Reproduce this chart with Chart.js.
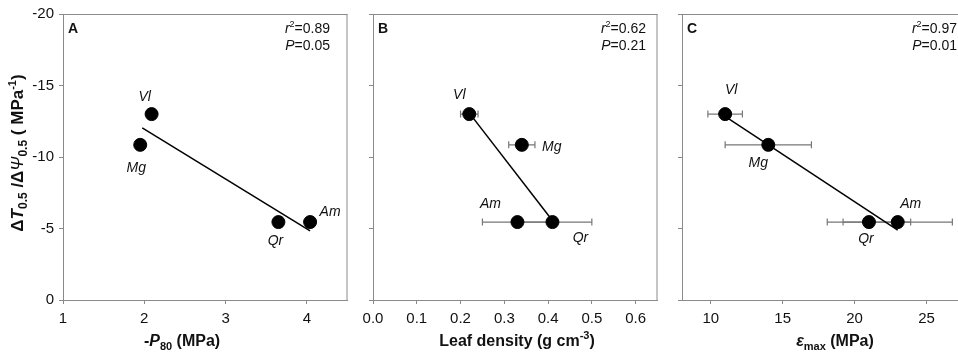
<!DOCTYPE html>
<html>
<head>
<meta charset="utf-8">
<script src="https://cdn.jsdelivr.net/npm/chart.js@4.4.0/dist/chart.umd.min.js"></script>
<style>
  html, body { margin: 0; padding: 0; background: #fff; overflow: hidden; width: 958px; height: 362px; }
  canvas { position: absolute; top: 0; }
</style>
</head>
<body>
<canvas id="panelA" width="355" height="362" style="left:0px"></canvas>
<canvas id="panelB" width="310" height="362" style="left:355px"></canvas>
<canvas id="panelC" width="330" height="362" style="left:665px"></canvas>
<script>
// data
const species = ['Vl', 'Mg', 'Qr', 'Am'];
const tempSens = [-13.0, -10.85, -5.45, -5.45];      // dT0.5 / dPsi0.5
const p80 = [2.09, 1.95, 3.65, 4.04];
const leafDensity = [0.22, 0.34, 0.41, 0.33];
const leafDensityErr = [0.02, 0.03, 0.09, 0.08];
const emax = [11.0, 14.0, 21.0, 23.0];
const emaxErr = [1.2, 3.0, 2.9, 3.8];

// regression line end points
const fitXA = [1.975, 4.04];
const fitYA = [-12.03, -4.83];
const fitXB = [0.222, 0.405];
const fitYB = [-13.0, -5.75];
const fitXC = [11.1, 23.0];
const fitYC = [-12.77, -4.88];

const r2Vals = ['0.89', '0.62', '0.97'];
const pVals = ['0.05', '0.21', '0.01'];

// axis ticks
const yTicks = [-20, -15, -10, -5, 0];
const xTicksA = [1, 2, 3, 4];
const xTicksB = [0, 0.1, 0.2, 0.3, 0.4, 0.5, 0.6];
const xTicksC = [10, 15, 20, 25];

const FONT = '"Liberation Sans", Arial, sans-serif';
const AXIS = '#8a8a8a';
const INK = '#111';

function richText(ctx, parts, x, y, align) {
  let w = 0;
  parts.forEach(p => { ctx.font = p.f; p.w = ctx.measureText(p.t).width; w += p.w; });
  let cx = align === 'center' ? x - w / 2 : align === 'right' ? x - w : x;
  ctx.textAlign = 'left';
  ctx.textBaseline = 'alphabetic';
  ctx.fillStyle = INK;
  parts.forEach(p => { ctx.font = p.f; ctx.fillText(p.t, cx, y + (p.dy || 0)); cx += p.w; });
}

const B16 = 'bold 16px ' + FONT, B11 = 'bold 11px ' + FONT;

// panel extras drawn by one plugin
const panelPlugin = {
  id: 'panelExtras',
  beforeDatasetsDraw(chart) {
    const cfg = chart.options.plugins.panelExtras;
    const ctx = chart.ctx, xs = chart.scales.x, ys = chart.scales.y;
    // error bars
    if (cfg.err) {
      ctx.save();
      ctx.strokeStyle = '#777';
      ctx.lineWidth = 1.2;
      cfg.xv.forEach((v, i) => {
        const y = ys.getPixelForValue(tempSens[i]);
        const x1 = xs.getPixelForValue(v - cfg.err[i]);
        const x2 = xs.getPixelForValue(v + cfg.err[i]);
        ctx.beginPath();
        ctx.moveTo(x1, y); ctx.lineTo(x2, y);
        ctx.moveTo(x1, y - 3.5); ctx.lineTo(x1, y + 3.5);
        ctx.moveTo(x2, y - 3.5); ctx.lineTo(x2, y + 3.5);
        ctx.stroke();
      });
      ctx.restore();
    }
  },
  afterDraw(chart) {
    const cfg = chart.options.plugins.panelExtras;
    const ctx = chart.ctx, a = chart.chartArea, xs = chart.scales.x, ys = chart.scales.y;
    ctx.save();
    // top and right frame
    ctx.strokeStyle = AXIS;
    ctx.lineWidth = 1;
    ctx.beginPath();
    ctx.moveTo(a.left, a.top + 0.5); ctx.lineTo(a.right, a.top + 0.5);
    ctx.moveTo(a.right - 0.5, a.top); ctx.lineTo(a.right - 0.5, a.bottom);
    ctx.stroke();

    // species labels
    ctx.font = 'italic 14px ' + FONT;
    ctx.fillStyle = INK;
    ctx.textAlign = 'center';
    ctx.textBaseline = 'middle';
    species.forEach((s, i) => {
      const px = xs.getPixelForValue(cfg.xv[i]) + cfg.lab[i][0];
      const py = ys.getPixelForValue(tempSens[i]) + cfg.lab[i][1];
      ctx.fillText(s, px, py);
    });

    // panel letter
    ctx.font = 'bold 14px ' + FONT;
    ctx.textAlign = 'left';
    ctx.textBaseline = 'alphabetic';
    ctx.fillText(cfg.letter, a.left + 5, a.top + 19);

    // statistics
    const I14 = 'italic 14px ' + FONT, R14 = '14px ' + FONT;
    richText(ctx, [{t: 'r', f: I14}, {t: '2', f: '9px ' + FONT, dy: -6}, {t: '=' + r2Vals[cfg.idx], f: R14}], cfg.statX, 33, 'right');
    richText(ctx, [{t: 'P', f: I14}, {t: '=' + pVals[cfg.idx], f: R14}], cfg.statX, 50, 'right');

    // x title
    richText(ctx, cfg.xTitle, cfg.titleX, 346, 'center');

    // y title (panel A only)
    if (cfg.yTitle) {
      ctx.translate(23, 153);
      ctx.rotate(-Math.PI / 2);
      richText(ctx, cfg.yTitle, 0, 0, 'center');
    }
    ctx.restore();
  }
};

function makePanel(id, cfg) {
  const pts = species.map((s, i) => ({x: cfg.xv[i], y: tempSens[i]}));
  const fit = cfg.fitX.map((v, i) => ({x: v, y: cfg.fitY[i]}));
  return new Chart(document.getElementById(id), {
    type: 'scatter',
    data: {
      datasets: [
        {data: pts, pointRadius: 6.5, pointHoverRadius: 6.5, backgroundColor: '#000', borderColor: '#000'},
        {data: fit, showLine: true, pointRadius: 0, borderColor: '#000', borderWidth: 1.5}
      ]
    },
    options: {
      responsive: false,
      animation: false,
      devicePixelRatio: 1,
      layout: {padding: {left: 0, right: cfg.padRight, top: 13, bottom: 0}},
      plugins: {legend: {display: false}, tooltip: {enabled: false}, panelExtras: cfg},
      scales: {
        x: {
          type: 'linear', min: cfg.xmin, max: cfg.xmax,
          afterBuildTicks: s => { s.ticks = cfg.xt.map(v => ({value: v})); },
          afterFit: s => { s.height = 62; },
          grid: {drawOnChartArea: false, drawTicks: true, tickLength: 4, color: AXIS},
          border: {color: AXIS, width: 1},
          ticks: {font: {family: FONT, size: 15}, color: INK, padding: 6, maxRotation: 0, autoSkip: false,
                  callback: v => cfg.fmt(v)}
        },
        y: {
          type: 'linear', min: -20, max: 0, reverse: true,
          afterBuildTicks: s => { s.ticks = yTicks.map(v => ({value: v})); },
          afterFit: s => { s.width = cfg.yWidth; },
          grid: {drawOnChartArea: false, drawTicks: true, tickLength: 4, color: AXIS},
          border: {color: AXIS, width: 1},
          ticks: {font: {family: FONT, size: 15}, color: INK, padding: 5,
                  callback: v => cfg.showY ? String(v) : ''}
        }
      }
    },
    plugins: [panelPlugin]
  });
}

makePanel('panelA', {
  idx: 0, letter: 'A', xv: p80, err: null, fitX: fitXA, fitY: fitYA,
  xmin: 1, xmax: 4.5, xt: xTicksA, fmt: v => String(v), showY: true,
  yWidth: 63, padRight: 5, statX: 330, titleX: 182,
  lab: [[-7, -17], [-4, 23], [-3, 19], [20, -10]],
  xTitle: [{t: '-', f: B16}, {t: 'P', f: 'bold italic 16px ' + FONT}, {t: '80', f: B11, dy: 4}, {t: ' (MPa)', f: B16}],
  yTitle: [
    {t: '\u0394', f: 'bold 17px ' + FONT}, {t: 'T', f: 'bold italic 17px ' + FONT},
    {t: '0.5', f: 'bold 12px ' + FONT, dy: 4}, {t: ' /\u0394', f: 'bold 17px ' + FONT},
    {t: '\u03A8', f: 'italic 17px ' + FONT}, {t: '0.5', f: 'bold 12px ' + FONT, dy: 4},
    {t: ' ( MPa', f: 'bold 17px ' + FONT}, {t: '-1', f: 'bold 11px ' + FONT, dy: -7},
    {t: ')', f: 'bold 17px ' + FONT}
  ]
});

makePanel('panelB', {
  idx: 1, letter: 'B', xv: leafDensity, err: leafDensityErr, fitX: fitXB, fitY: fitYB,
  xmin: 0, xmax: 0.65, xt: xTicksB, fmt: v => v.toFixed(1), showY: false,
  yWidth: 18, padRight: 4, statX: 291, titleX: 162,
  lab: [[-10, -19], [30, 2], [28, 16], [-27, -18]],
  xTitle: [{t: 'Leaf density (g cm', f: B16}, {t: '-3', f: B11, dy: -7}, {t: ')', f: B16}]
});

makePanel('panelC', {
  idx: 2, letter: 'C', xv: emax, err: emaxErr, fitX: fitXC, fitY: fitYC,
  xmin: 8, xmax: 29, xt: xTicksC, fmt: v => String(v), showY: false,
  yWidth: 17, padRight: 11, statX: 292, titleX: 170,
  lab: [[6, -24], [-10, 18], [-3, 17], [13, -18]],
  xTitle: [{t: '\u03B5', f: 'bold italic 16px ' + FONT}, {t: 'max', f: B11, dy: 4}, {t: ' (MPa)', f: B16}]
});
</script>
</body>
</html>
